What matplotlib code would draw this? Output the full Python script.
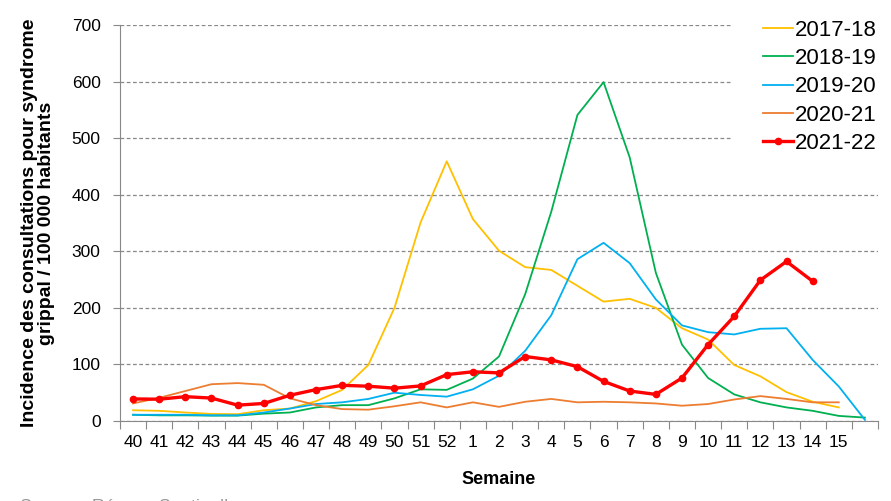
import matplotlib
matplotlib.use("Agg")
import matplotlib.pyplot as plt

plt.rcParams['font.family'] = ['Liberation Sans', 'DejaVu Sans']

weeks = ['40', '41', '42', '43', '44', '45', '46', '47', '48', '49', '50', '51', '52',
         '1', '2', '3', '4', '5', '6', '7', '8', '9', '10', '11', '12', '13', '14', '15', '']

s2017 = [19, 18, 15, 12.5, 12, 19, 22, 35, 55, 99, 200, 351, 459,
         357, 301, 272, 267, 239, 211, 216, 200, 164, 144, 99, 79, 51, 34, 24]
s2018 = [11, 10, 10, 9.5, 9.5, 13, 15, 24, 28, 28, 40, 56, 55,
         75, 114, 224, 370, 541, 599, 466, 262, 135, 76, 47, 33, 24, 18, 9, 6]
s2019 = [11, 11, 11, 10, 10, 15, 22, 30, 33, 39, 50, 46, 43,
         56, 80, 124, 187, 286, 315, 279, 215, 169, 157, 153, 163, 164, 108, 61, 2]
s2020 = [31, 41, 53, 65, 67, 64, 40, 28, 21, 20, 26, 33, 24,
         33, 25, 34, 39, 33, 34, 33, 31, 27, 30, 38, 44, 39, 33, 33]
s2021 = [39, 38.5, 43, 40.5, 28, 31, 45.5, 55.5, 63, 61.5, 58, 62, 82,
         87, 85, 114, 108, 96, 70, 53, 47, 76, 135, 185, 249, 282, 247]

fig = plt.figure(figsize=(8.91, 5.01), dpi=100)
ax = fig.add_axes([0.1347, 0.1597, 0.8507, 0.7904])

ax.plot(range(len(s2017)), s2017, color='#FFC000', lw=1.3, label='2017-18')
ax.plot(range(len(s2018)), s2018, color='#00B050', lw=1.3, label='2018-19')
ax.plot(range(len(s2019)), s2019, color='#00B0F0', lw=1.3, label='2019-20')
ax.plot(range(len(s2020)), s2020, color='#ED7D31', lw=1.3, label='2020-21')
ax.plot(range(len(s2021)), s2021, color='#FF0000', lw=2.4, marker='o', ms=4.5,
        label='2021-22')

ax.set_xlim(-0.5, len(weeks) - 0.5)
ax.set_ylim(0, 700)
ax.set_yticks(range(0, 701, 100))
ax.set_xticks([i - 0.5 for i in range(len(weeks) + 1)])
ax.set_xticklabels([])
ax.set_xticks(range(len(weeks)), minor=True)
ax.set_xticklabels(weeks, minor=True)
ax.tick_params(axis='x', which='major', length=6, color='#888888', direction='out')
ax.tick_params(axis='x', which='minor', length=0, labelsize=12.5, pad=10)
ax.tick_params(axis='y', length=5, color='#888888', labelsize=12.5, pad=9)

for s in ['top', 'right']:
    ax.spines[s].set_visible(False)
for s in ['left', 'bottom']:
    ax.spines[s].set_color('#888888')

ax.yaxis.grid(True, linestyle=(0, (3, 2)), color='#888888', lw=0.9)
ax.set_axisbelow(True)

ax.set_xlabel('Semaine', fontsize=13, fontweight='bold', labelpad=15)
ax.set_ylabel('Incidence des consultations pour syndrome\ngrippal / 100 000 habitants',
              fontsize=14, fontweight='bold', labelpad=12, linespacing=1.0)

leg = ax.legend(loc='upper right', bbox_to_anchor=(1.054, 1.12), fontsize=16,
                frameon=True, facecolor='white', edgecolor='none', framealpha=1,
                handlelength=1.35, handletextpad=0.1, labelspacing=0.33, borderpad=1.4)

fig.text(0.022, 0.004, 'Source : Réseau Sentinelles', color='#999999', fontsize=13,
         va='top')

fig.savefig('out.png', dpi=100)
